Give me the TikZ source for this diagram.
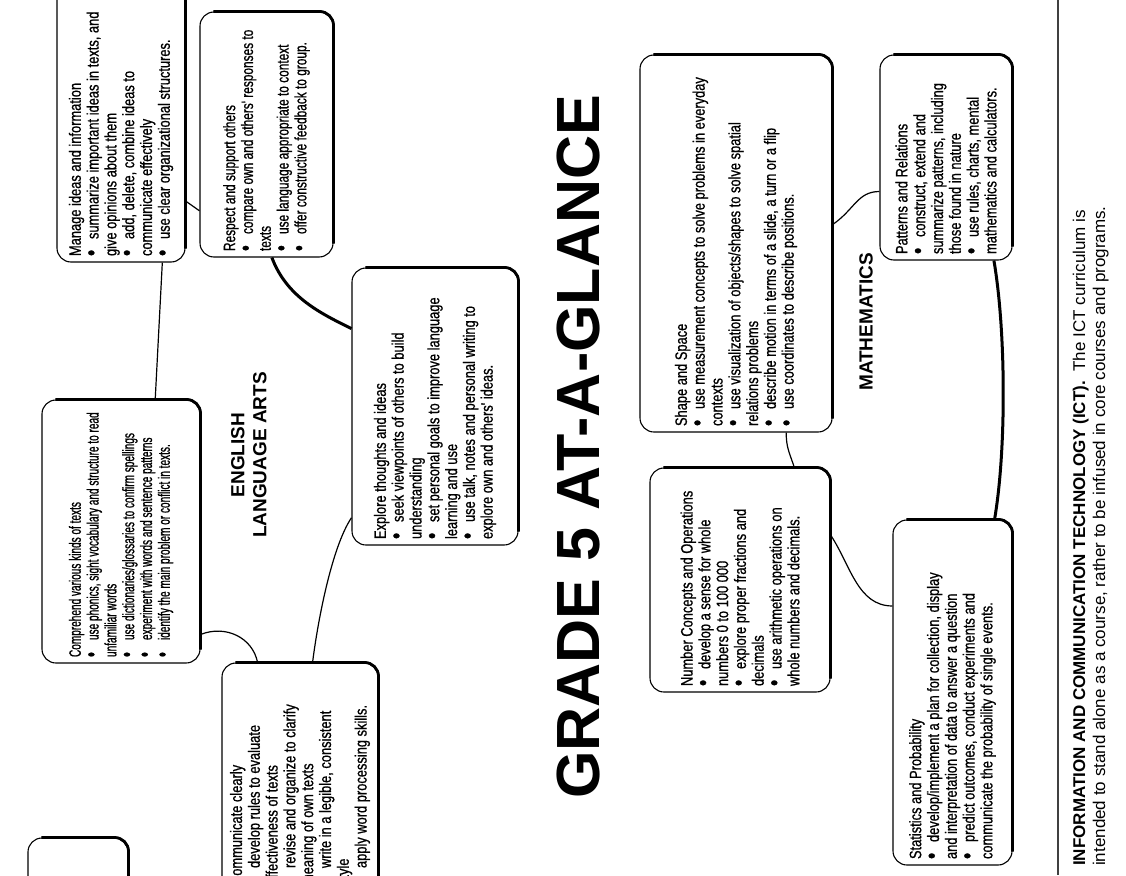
\documentclass[tikz,border=0pt]{standalone}
\usepackage{fontspec}
\setmainfont{Liberation Sans}
\newfontfamily\boxfont[FakeStretch=0.78,FakeBold=0.8]{Liberation Sans}
\newfontfamily\midfont[FakeStretch=0.72,FakeBold=0.8]{Liberation Sans}
\newfontfamily\narrowfont[FakeStretch=0.61,FakeBold=0.8]{Liberation Sans}
\usetikzlibrary{calc}
\newcommand\hd[1]{\par\noindent #1}
\newcommand\bit[1]{\par\noindent\hangindent=17pt\hangafter=1\makebox[17pt][l]{\raisebox{-0.05ex}{\scalebox{1.4}{\textbullet}}}#1}
\tikzset{
  cardbox/.style={draw, line width=1.1pt, rounded corners=14pt, inner sep=0pt, fill=white},
  thickedge/.style={line width=2.8pt, rounded corners=14pt},
  conn/.style={line width=1.2pt},
  thickconn/.style={line width=3pt},
}
% #1 font, #2 name, #3 left x, #4 top y, #5 width, #6 height, #7 text
\newcommand\card[7][\boxfont]{%
  \node[cardbox, minimum width=#5pt, minimum height=#6pt] (#2) at ({#3+#5/2},{#4+#6/2})
   {\rotatebox{90}{\begin{minipage}{\dimexpr#6pt-12pt\relax}#1\fontsize{16.5}{17.8}\selectfont\raggedright #7\end{minipage}}};
  \draw[thickedge] ([yshift=14pt]#2.south east) -- (#2.north east) -- ([xshift=14pt]#2.north west);
}
\begin{document}
\begin{tikzpicture}[x=1pt,y=-1pt]
\useasboundingbox[fill=white] (0,0) rectangle (1126,875);
\clip (0,0) rectangle (1126,875);

% ---- English Language Arts ----
\card{A}{57}{-30}{128}{292}{\hd{Manage ideas and information}
\bit{summarize important ideas in texts, and\\ give opinions about them}
\bit{add, delete, combine ideas to\\ communicate effectively}
\bit{use clear organizational structures.}}

\card[\midfont]{R}{200}{12}{133}{245}{\hd{Respect and support others}
\bit{compare own and others' responses to\\ texts}
\bit{use language appropriate to context}
\bit{offer constructive feedback to group.}}

\card[\narrowfont]{C}{42}{400}{158}{263}{\hd{Comprehend various kinds of texts}
\bit{use phonics, sight vocabulary and structure to read\\ unfamiliar words}
\bit{use dictionaries/glossaries to confirm spellings}
\bit{experiment with words and sentence patterns}
\bit{identify the main problem or conflict in texts.}}

\card{CC}{222}{663}{156}{228}{\hd{Communicate clearly}
\bit{develop rules to evaluate\\ effectiveness of texts}
\bit{revise and organize to clarify\\ meaning of own texts}
\bit{write in a legible, consistent\\ style}
\bit{apply word processing skills.}}

\card{E}{352}{268}{166}{277}{\hd{Explore thoughts and ideas}
\bit{seek viewpoints of others to build\\ understanding}
\bit{set personal goals to improve language\\ learning and use}
\bit{use talk, notes and personal writing to\\ explore own and others' ideas.}}

\card{SM}{28}{838}{100}{80}{}

\node[inner sep=0pt] (ela) at (251,455) {\rotatebox{90}{\bfseries\fontsize{19}{22}\selectfont\begin{tabular}{@{}c@{}}ENGLISH\\LANGUAGE ARTS\end{tabular}}};

\draw[conn] ($(C.north west)!0.715!(C.north east)$) -- ($(A.south west)!0.82!(A.south east)$);
\draw[conn] ($(A.north east)!0.79!(A.south east)$) -- ($(R.north west)!0.81!(R.south west)$);
\draw[thickconn] ($(R.south west)!0.54!(R.south east)$) .. controls +(15,40) and +(-30,-15) .. ($(E.north west)!0.22!(E.south west)$);
\draw[conn] ($(E.north west)!0.9!(E.south west)$) .. controls +(-20,30) and +(5,-40) .. ($(CC.north west)!0.58!(CC.north east)$);
\draw[conn] ($(CC.north west)!0.23!(CC.north east)$) .. controls +(-5,-25) and +(25,-10) .. ($(C.north east)!0.89!(C.south east)$);

% ---- Title ----
\node[inner sep=0pt] (title) at (578,447) {\rotatebox{90}{\bfseries\fontsize{61}{63}\selectfont GRADE 5 AT-A-GLANCE}};

% ---- Mathematics ----
\card{S}{640}{55}{192}{377}{\hd{Shape and Space}
\bit{use measurement concepts to solve problems in everyday\\ contexts}
\bit{use visualization of objects/shapes to solve spatial\\ relations problems}
\bit{describe motion in terms of a slide, a turn or a flip}
\bit{use coordinates to describe positions.}}

\card{N}{650}{468}{180}{224}{\hd{Number Concepts and Operations}
\bit{develop a sense for whole\\ numbers 0 to 100 000}
\bit{explore proper fractions and\\ decimals}
\bit{use arithmetic operations on\\ whole numbers and decimals.}}

\card{ST}{893}{520}{119}{345}{\hd{Statistics and Probability}
\bit{develop/implement a plan for collection, display\\ and interpretation of data to answer a question}
\bit{predict outcomes, conduct experiments and\\ communicate the probability of single events.}}

\card{P}{880}{55}{132}{205}{\hd{Patterns and Relations}
\bit{construct, extend and\\ summarize patterns, including\\ those found in nature}
\bit{use rules, charts, mental\\ mathematics and calculators.}}

\node[inner sep=0pt] (math) at (866,322) {\rotatebox{90}{\bfseries\fontsize{19}{22}\selectfont MATHEMATICS}};

\draw[conn] ($(S.north east)!0.45!(S.south east)$) .. controls +(22,-15) and +(-22,0) .. ($(P.north west)!0.665!(P.south west)$);
\draw[thickconn] ($(P.south west)!0.86!(P.south east)$) .. controls +(12,70) and +(12,-70) .. ($(ST.north west)!0.85!(ST.north east)$);
\draw[conn] ($(ST.north west)!0.25!(ST.south west)$) .. controls +(-35,0) and +(20,30) .. ($(N.north east)!0.3!(N.south east)$);
\draw[conn] ($(N.north west)!0.8!(N.north east)$) .. controls +(-5,-15) and +(0,15) .. ($(S.south west)!0.76!(S.south east)$);

% ---- ICT footer ----
\coordinate (ruletop) at (1058,0);
\coordinate (rulebot) at (1058,875);
\draw[black!75, line width=1.3pt] (ruletop) -- (rulebot);
\node[anchor=south west, inner sep=0pt] (ict) at (1071,866) {\rotatebox{90}{\fontsize{17}{20}\selectfont\begin{tabular}{@{}l@{}}\textbf{INFORMATION AND COMMUNICATION TECHNOLOGY (ICT).}\ \ The ICT curriculum is\\ intended to stand alone as a course, rather to be infused in core courses and programs.\end{tabular}}};
\end{tikzpicture}
\end{document}
